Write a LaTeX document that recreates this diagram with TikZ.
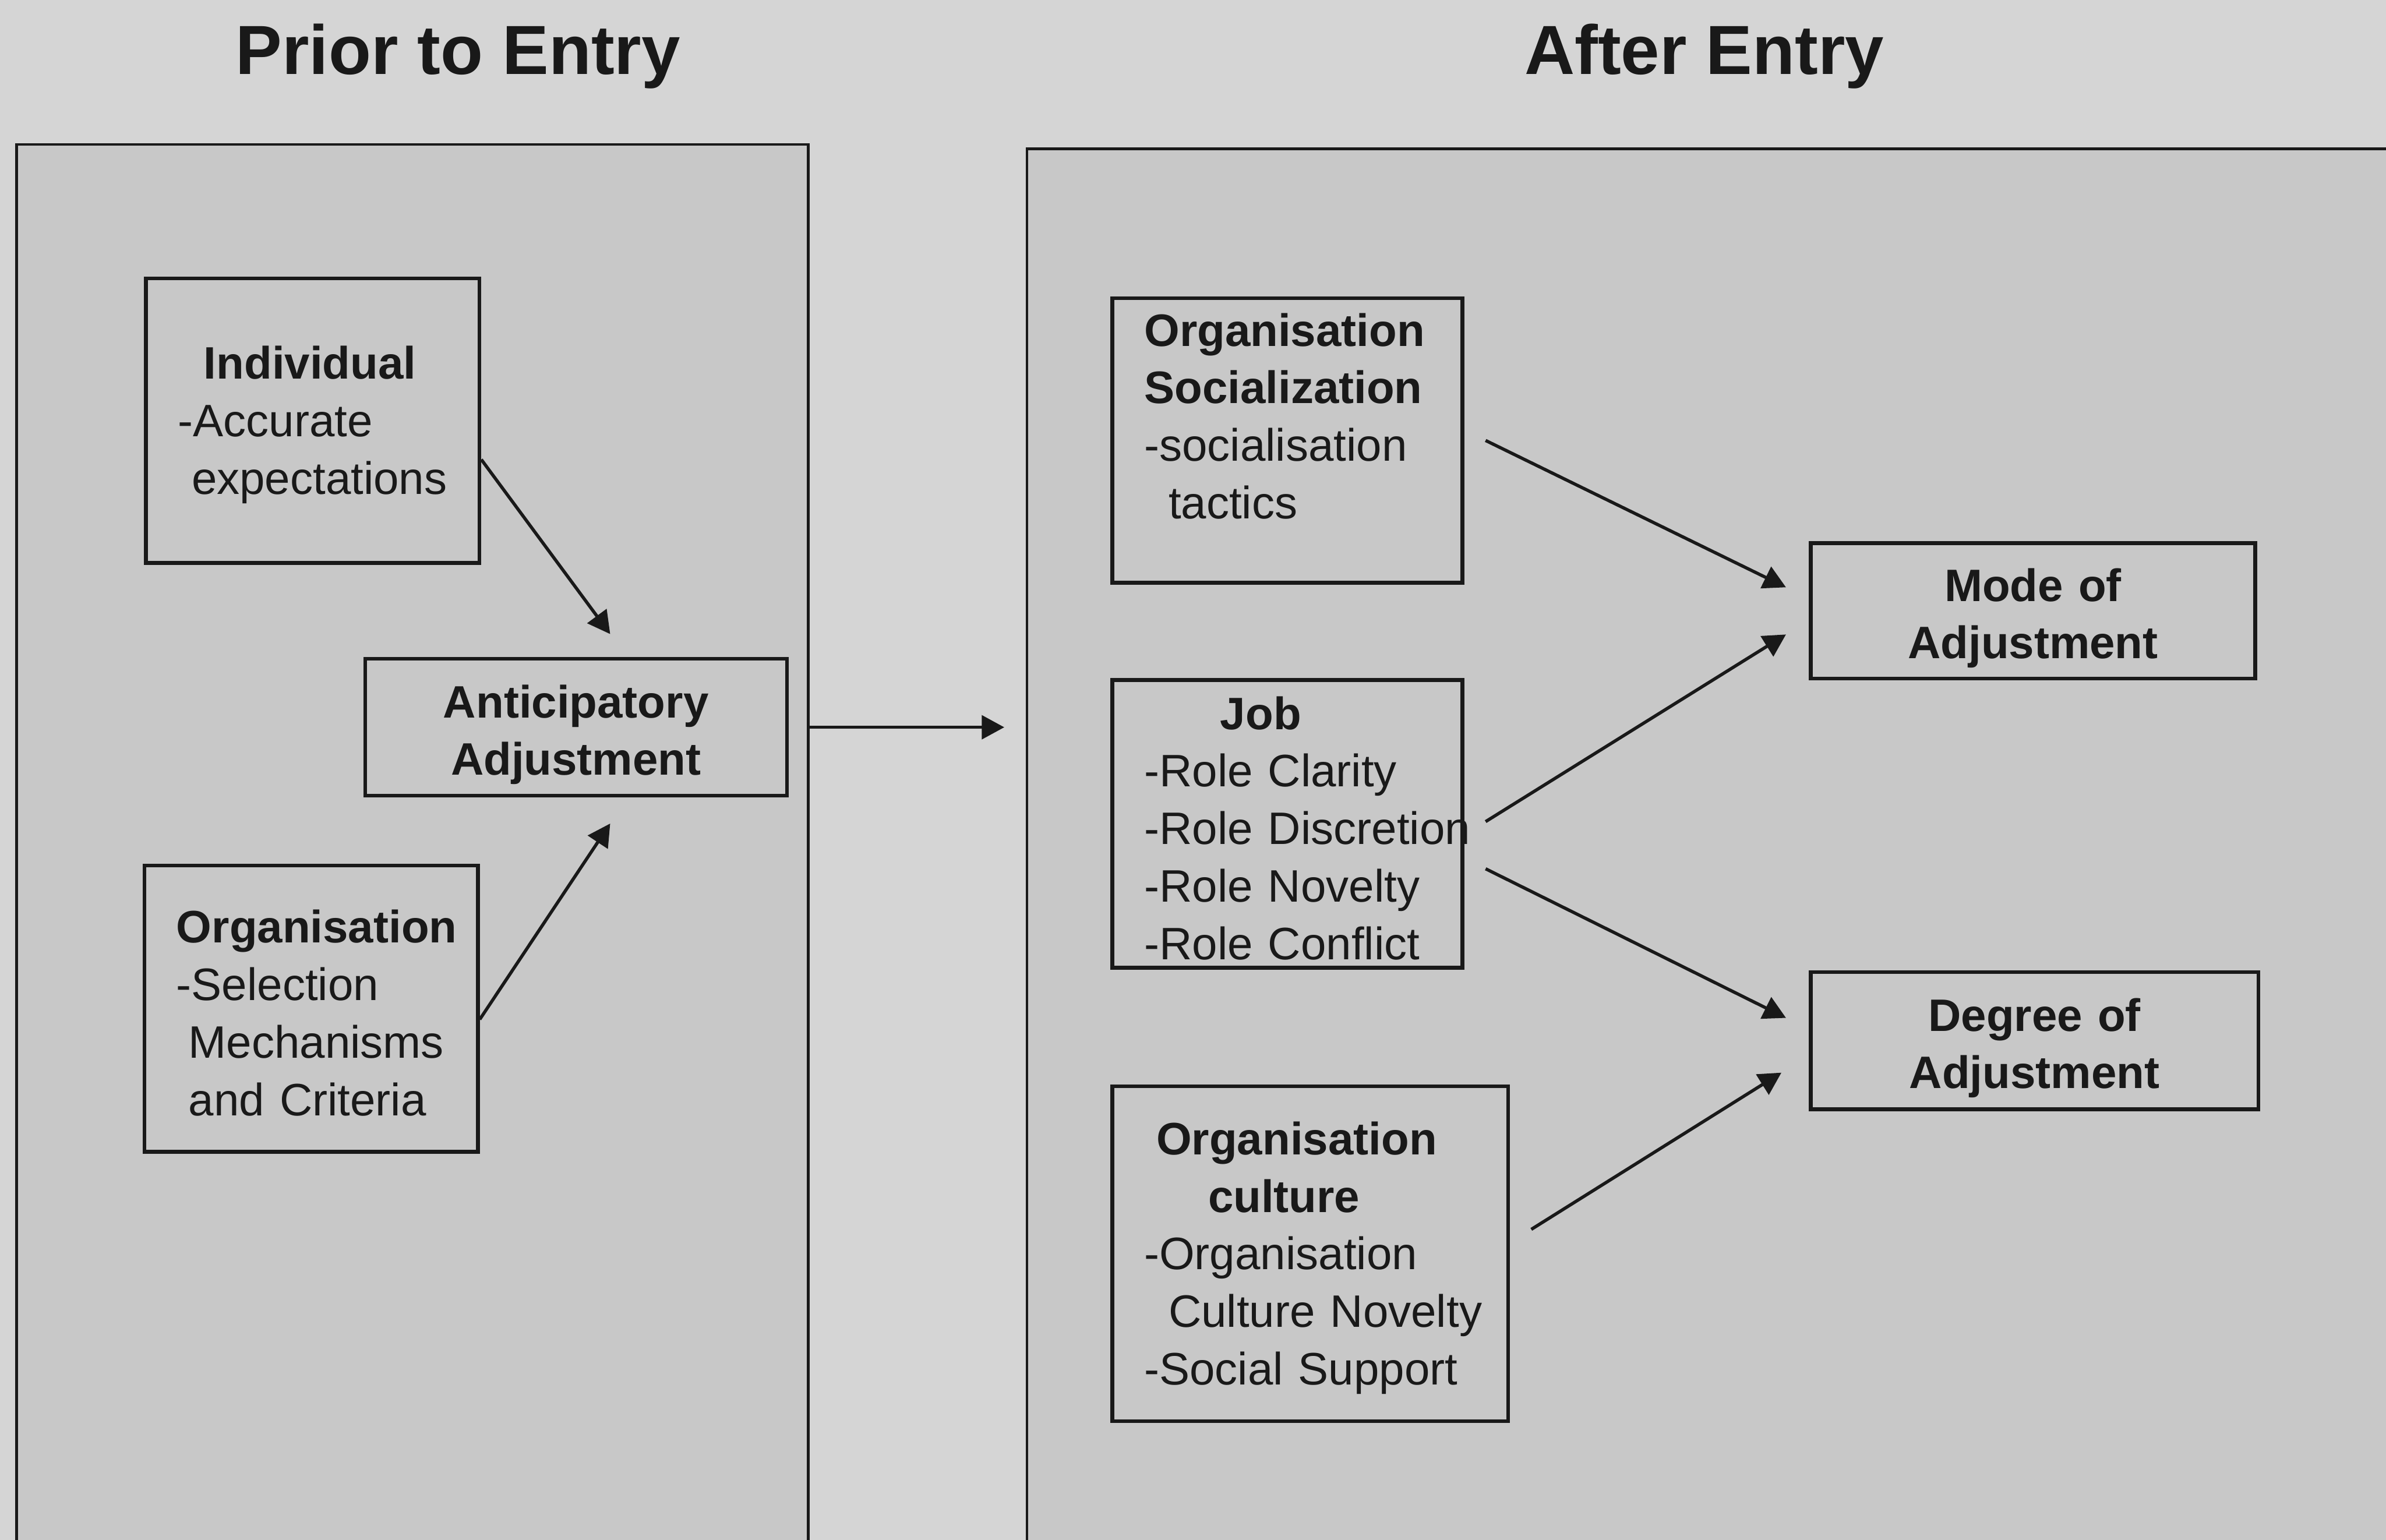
\documentclass[tikz,border=0pt]{standalone}
\usepackage{fontspec}
\setmainfont{Liberation Sans}
\usetikzlibrary{arrows.meta, calc}

\definecolor{pagegray}{gray}{0.835}
\definecolor{panelgray}{gray}{0.785}
\definecolor{ink}{gray}{0.1}

% 語の途中で改行させない
\hyphenpenalty=10000
\exhyphenpenalty=10000

\tikzset{
    panel/.style={draw=ink, line width=0.5pt, fill=panelgray, rectangle, inner sep=0pt},
    factor/.style={draw=ink, line width=0.7pt, rectangle, inner xsep=0.21cm, inner ysep=0pt,
        align=left, text=ink, font=\fontsize{8.5}{10.75}\selectfont,
        execute at begin node={\rule{0pt}{7.7pt}}},
    outcome/.style={factor, align=center, font=\fontsize{8.5}{10.75}\selectfont\bfseries,
        execute at begin node={\rule{0pt}{8.9pt}}},
    heading/.style={text=ink, font=\fontsize{13}{15}\selectfont\bfseries},
    link/.style={draw=ink, line width=0.6pt, -{Triangle[length=4.2pt, width=4.4pt]}},
}

\begin{document}
\begin{tikzpicture}[
    x=0.01cm,   % 1単位 = 0.1mm
    y=-0.01cm   % 下向き
]
    % --- 背景 ---
    \useasboundingbox (0,0) rectangle (1568,1012);
    \clip (0,0) rectangle (1568,1012);
    \fill[pagegray] (0,0) rectangle (1568,1012);

    % --- 2つの枠 ---
    \node[panel, minimum width=5.20cm, minimum height=9.50cm, anchor=north west] (prior) at (10,94) {};
    \node[panel, minimum width=9.40cm, minimum height=9.50cm, anchor=north west] (after) at (674,97) {};

    % --- 見出し ---
    \node[heading] (priorT) at (301,37) {Prior to Entry};
    \node[heading] (afterT) at (1120,37) {After Entry};

    % --- 入社前 ---
    \node[factor, minimum height=1.87cm, text width=1.77cm] (indiv) at (205.5,276.5)
        {\hspace*{0.17cm}\textbf{Individual}\\-Accurate\\\hspace*{0.09cm}expectations};
    \node[outcome, minimum height=0.90cm, text width=2.35cm] (antic) at (378.5,478)
        {Anticipatory\\Adjustment};
    \node[factor, minimum height=1.88cm, text width=1.77cm] (orgpre) at (204.5,663)
        {\textbf{Organisation}\\-Selection\\\hspace*{0.08cm}Mechanisms\\\hspace*{0.08cm}and~Criteria};

    \draw[link] ($(indiv.east)+(0,25.5)$) -- ($(antic.north)+(22.5,-15)$);
    \draw[link] ($(orgpre.east)+(0,7)$) -- ($(antic.south)+(22.5,17)$);

    % 枠から枠へ
    \draw[link, shorten >=0.14cm] (antic.east -| prior.east) -- (antic.east -| after.west);

    % --- 入社後 ---
    \node[factor, minimum height=1.87cm, text width=1.88cm] (osoc) at (846,289.5)
        {\textbf{Organisation}\\\textbf{Socialization}\\-socialisation\\\hspace*{0.16cm}tactics\\\mbox{}};
    \node[factor, minimum height=1.89cm, text width=1.88cm] (job) at (846,541.5)
        {\hspace*{0.50cm}\textbf{Job}\\-Role~Clarity\\-Role~Discretion\\-Role~Novelty\\-Role~Conflict};
    \node[factor, minimum height=2.20cm, text width=2.18cm] (culture) at (861,824)
        {\hspace*{0.08cm}\textbf{Organisation}\\\hspace*{0.42cm}\textbf{culture}\\-Organisation\\\hspace*{0.16cm}Culture~Novelty\\-Social~Support};

    \node[outcome, minimum height=0.89cm, text width=2.50cm] (mode) at (1336,401.5)
        {Mode of\\Adjustment};
    \node[outcome, minimum height=0.90cm, text width=2.52cm] (degree) at (1337,684)
        {Degree of\\Adjustment};

    \draw[link] ($(osoc.east)+(14,0)$) -- ($(mode.west)+(-15,-15.5)$);
    \draw[link] ($(job.east)+(14,-1.5)$) -- ($(mode.west)+(-15,15.5)$);
    \draw[link] ($(job.east)+(14,29.5)$) -- ($(degree.west)+(-15,-15)$);
    \draw[link] ($(culture.east)+(14,-16)$) -- ($(degree.west)+(-18,21)$);

\end{tikzpicture}
\end{document}
